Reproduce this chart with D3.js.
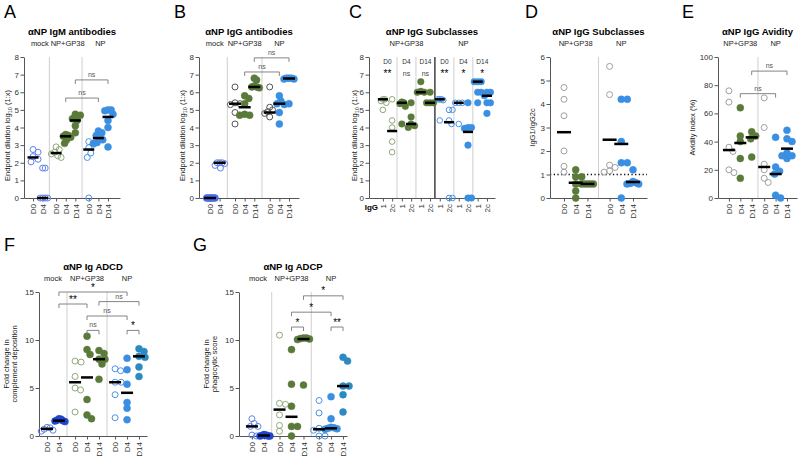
<!DOCTYPE html>
<html><head><meta charset="utf-8">
<script src="https://cdn.jsdelivr.net/npm/d3@7"></script>
<style>body{margin:0;background:#fff}svg{display:block}</style>
</head><body><svg id="c" width="799" height="457"></svg>
<script>
// ================= DATA =================
// Panel A – αNP IgM antibodies
const A_labels = ["D0","D4","D0","D4","D14","D0","D4","D14"];
const A_groupOf = [0,0,1,1,1,2,2,2];
const A_subs = [["mock",0,1],["NP+GP38",2,4],["NP",5,7]];
const A_values = [
  [2.75,2.6,2.35,2.2,2.05],
  [1.7,1.7,0,0,0,0],
  [2.9,2.75,2.6,2.5,2.4,2.3],
  [3.6,3.55,3.5,3.45,3.3,3.1],
  [4.75,4.7,4.5,4.4,4.1,3.7],
  [3.2,3.05,2.85,2.55,2.3,0],
  [3.8,3.7,3.55,3.4,3.3,3.15,3.1],
  [5.0,5.0,4.95,4.75,4.4,4.0,2.9]
];
const A_medians = [2.3,0,2.55,3.5,4.4,2.75,3.4,4.6];
const A_sig = [[3,6,5.67,"ns"],[4,7,6.7,"ns"]];

// Panel B – αNP IgG antibodies
const B_labels = ["D0","D4","D0","D4","D14","D0","D4","D14"];
const B_groupOf = [0,0,1,1,1,2,2,2];
const B_subs = [["mock",0,1],["NP+GP38",2,4],["NP",5,7]];
const B_values = [
  [0,0,0,0,0,0],
  [2.0,2.0,2.0,1.95,1.85,1.7],
  [6.3,5.4,5.35,5.3,4.85,4.2],
  [5.8,5.65,5.35,4.75,4.7,4.7],
  [6.8,6.7,6.35,6.3,6.3,6.25],
  [6.3,5.15,5.0,4.9,4.8,4.6],
  [5.8,5.5,5.35,5.3,4.85,4.2],
  [6.8,6.8,6.8,6.75,6.75,5.35]
];
const B_medians = [0,2.0,5.35,5.15,6.3,4.85,5.35,6.78];
const B_sig = [[3,6,7.15,"ns"],[4,7,7.95,"ns"]];

// Panel C – αNP IgG Subclasses (IgG1 / IgG2c)
const C_labels = ["1","2c","1","2c","1","2c","1","2c","1","2c","1","2c"];
const C_groupOf = [0,0,1,1,2,2,3,3,4,4,5,5];
const C_subs = [["NP+GP38",0,5],["NP",6,11]];
const C_days = ["D0","D4","D14","D0","D4","D14"];
const C_groupSig = ["**","ns","ns","**","*","*"];
const C_values = [
  [5.6,5.6,5.5,5.4,5.0],
  [5.6,4.4,4.0,3.2,2.6],
  [5.45,5.4,5.35,5.2,4.2],
  [5.4,4.6,4.2,4.1,4.0],
  [6.6,6.05,6.0,6.0],
  [6.0,5.4,5.4,5.4],
  [5.6,5.6,5.6,5.55,4.4],
  [5.0,5.0,4.4,4.2,0,0],
  [5.4,5.4,5.4,4.2],
  [5.4,4.0,4.0,3.95,3.0,0,0],
  [6.6,6.6,6.6,6.0,6.0,5.4],
  [6.0,6.0,5.8,5.4,5.4,4.8]
];
const C_medians = [5.6,3.8,5.4,4.2,6.0,5.4,5.6,4.3,5.4,3.75,6.6,5.8];

// Panel D – IgG1/IgG2c ratio
const D_labels = ["D0","D4","D14","D0","D4","D14"];
const D_groupOf = [0,0,0,1,1,1];
const D_subs = [["NP+GP38",0,2],["NP",3,5]];
const D_values = [
  [4.7,4.2,3.5,2.0,1.35,1.1],
  [1.2,0.9,0.9,0.6,0.3,0.0],
  [0.6,0.6,0.6,0.6,0.6],
  [5.6,4.4,1.4,1.3,1.15,1.1],
  [4.2,4.2,2.4,1.5,1.5,0.0],
  [1.2,0.7,0.65,0.62,0.6,0.6]
];
const D_medians = [2.8,0.65,0.6,2.48,2.3,0.68];
const D_refLine = 1;

// Panel E – αNP IgG Avidity
const E_labels = ["D0","D4","D14","D0","D4","D14"];
const E_groupOf = [0,0,0,1,1,1];
const E_subs = [["NP+GP38",0,2],["NP",3,5]];
const E_values = [
  [76,68,36,33,20,18],
  [64,44,40,28,14],
  [47,44,42,29],
  [71,50,24,20,14,11],
  [43,22,19,17,2,0],
  [48,42,40,32,30,28,30]
];
const E_medians = [34,39,43,22,17,35];
const E_sig = [[1,4,74,"ns"],[2,5,90,"ns"]];

// Panel F – αNP Ig ADCD
const F_labels = ["D0","D4","D0","D4","D14","D0","D4","D14"];
const F_groupOf = [0,0,1,1,1,2,2,2];
const F_subs = [["mock",0,1],["NP+GP38",2,4],["NP",5,7]];
const F_values = [
  [0.9,0.85,0.7,0.6,0.5],
  [1.8,1.75,1.65,1.6,1.55,1.5],
  [7.8,7.7,6.2,5.0,4.8,2.5],
  [10.4,9.0,8.5,3.8,2.2,1.8],
  [8.9,8.6,8.0,8.0,7.5,5.9],
  [7.0,6.8,5.6,5.6,4.3,1.9],
  [8.1,6.9,5.4,3.5,2.9,1.7],
  [9.1,8.8,8.3,8.2,7.2,6.2]
];
const F_medians = [0.75,1.6,5.6,6.1,8.0,5.6,4.5,8.3];
const F_sig = [[1,6,15.0,"*"],[1,3,13.75,"**"],[4,7,14.0,"ns"],[3,6,12.5,"ns"],[3,4,11.0,"ns"],[6,7,11.0,"*"]];

// Panel G – αNP Ig ADCP
const G_labels = ["D0","D4","D0","D4","D14","D0","D4","D14"];
const G_groupOf = [0,0,1,1,1,2,2,2];
const G_subs = [["mock",0,1],["NP+GP38",2,4],["NP",5,7]];
const G_values = [
  [1.8,1.3,1.0,1.0,0.1,0.0],
  [0.15,0.1,0.05,0.0,0.0,0.0],
  [10.5,3.4,3.3,2.2,1.1,0.5],
  [9.0,5.4,3.1,1.0,1.0,0.0],
  [10.2,10.2,10.15,10.1,10.05,5.3],
  [3.7,2.4,0.8,0.7,0.6,0.0,0.0],
  [4.1,1.8,0.9,0.85,0.8,0.75,0.7],
  [8.2,7.8,5.2,5.2,4.3,2.5]
];
const G_medians = [1.0,0.05,2.75,2.0,10.1,0.7,0.8,5.2];
const G_sig = [[4,7,14.6,"*"],[3,6,12.9,"*"],[3,4,11.35,"*"],[6,7,11.35,"**"]];

// ================= STYLES =================
const FONT = '"Liberation Sans", Arial, Helvetica, sans-serif';
const ST = {
  mockO:{fill:"none",stroke:"#5f82ea"},
  mockB:{fill:"#4a6cea",stroke:"#4a6cea"},
  mockF:{fill:"#1f46d2",stroke:"#1f46d2"},
  gpO:{fill:"none",stroke:"#8fa87a"},
  gpF:{fill:"#5a7a3a",stroke:"#5a7a3a"},
  npO:{fill:"none",stroke:"#4b93e6"},
  npF:{fill:"#3a8fe2",stroke:"#3a8fe2"},
  npT:{fill:"#2b8ac2",stroke:"#2b8ac2"},
  grO:{fill:"none",stroke:"#a0a0a0"},
  dkO:{fill:"none",stroke:"#555"}
};

const svg = d3.select("#c");

function swarm(vals, y, r, maxSpread){
  const placed=[], md=r*1.6;
  vals.forEach(v=>{
    const py=y(v); let dx=0;
    for(let k=0;k<80;k++){
      const c = k===0?0:((k%2?1:-1)*Math.ceil(k/2)*0.5);
      if(placed.every(q=>(q.dx-c)**2+(q.y-py)**2>=md*md)){dx=c;break;}
    }
    placed.push({dx,y:py});
  });
  const m = d3.max(placed,d=>Math.abs(d.dx))||0;
  if(m>maxSpread) placed.forEach(d=>d.dx*=maxSpread/m);
  return placed;
}

function panel(p){
  const g = svg.append("g");
  const n = p.values.length;
  const slots = p.groupOf.map((gi,i)=>i+p.gap*gi);
  const x = d3.scaleLinear().domain([-p.padL, slots[n-1]+p.padR]).range([p.x0,p.x1]);
  const y = d3.scaleLinear().domain(p.yDomain).range([p.yBot,p.yTop]);
  const R = p.r||3.5;

  svg.append("text").attr("x",p.letter[1]).attr("y",p.letter[2]).text(p.letter[0])
    .attr("font-family",FONT).attr("font-size",18).attr("fill","#000");
  g.append("text").attr("x",(p.x0+p.x1)/2).attr("y",p.titleY).attr("text-anchor","middle")
    .attr("font-family",FONT).attr("font-size",9.5).attr("font-weight","bold").text(p.title);
  p.subs.forEach(([t,a,b])=>{
    g.append("text").attr("x",(x(slots[a])+x(slots[b]))/2 + (p.subShift||0)).attr("y",p.subY).attr("text-anchor","middle")
      .attr("font-family",FONT).attr("font-size",7.5).attr("fill","#222").text(t);
  });

  for(let i=0;i<n-1;i++) if(p.groupOf[i]!==p.groupOf[i+1]){
    const sx = x((slots[i]+slots[i+1])/2);
    const dark = p.darkSep && p.darkSep.includes(i);
    g.append("line").attr("x1",sx).attr("x2",sx).attr("y1",p.yTop).attr("y2",p.yBot)
      .attr("stroke",dark?"#111":"#cfcfcf").attr("stroke-width",dark?1.2:1);
  }

  if(p.refLine!=null){
    g.append("line").attr("x1",p.x0).attr("x2",p.x1).attr("y1",y(p.refLine)).attr("y2",y(p.refLine))
      .attr("stroke","#111").attr("stroke-width",1.3).attr("stroke-dasharray","1.3,2.4");
  }

  const ya = g.append("g").attr("transform",`translate(${p.x0},0)`)
    .call(d3.axisLeft(y).tickValues(p.yTicks).tickFormat(d3.format("d")).tickSize(3.5).tickSizeOuter(0).tickPadding(1.5));
  const xa = g.append("g").attr("transform",`translate(0,${p.yBot})`)
    .call(d3.axisBottom(x).tickValues(slots).tickSize(3.5).tickSizeOuter(0).tickFormat((d,i)=>p.labels[i]));
  xa.selectAll("text").attr("transform","rotate(-90)").attr("text-anchor","end")
    .attr("x",-6).attr("y",0).attr("dy","0.35em");
  [ya,xa].forEach(a=>{
    a.attr("font-family",FONT).attr("font-size",8);
    a.select(".domain").attr("stroke","#555");
    a.selectAll(".tick line").attr("stroke","#555");
    a.selectAll("text").attr("fill","#333");
  });

  const cy = (p.yTop+p.yBot)/2 + (p.ylabShift||0);
  p.ylab.forEach((lab,k)=>{
    const t = g.append("text").attr("transform",`translate(${p.ylabX[k]},${cy}) rotate(-90)`)
      .attr("text-anchor","middle").attr("dy","0.35em").attr("font-family",FONT)
      .attr("font-size",7.5).attr("fill","#222");
    if(Array.isArray(lab)){
      t.append("tspan").text(lab[0]);
      t.append("tspan").attr("font-size",5.5).attr("dy",2).text(lab[1]);
      t.append("tspan").attr("dy",-2).text(lab[2]);
    } else t.text(lab);
  });

  p.values.forEach((vals,i)=>{
    const cx = x(slots[i]);
    const st = ST[p.styles[i]];
    g.append("g").selectAll("circle").data(swarm(vals,y,R,p.spread||6)).join("circle")
      .attr("cx",d=>cx+d.dx).attr("cy",d=>d.y).attr("r",st.fill==="none"?R-0.5:R)
      .attr("fill",st.fill).attr("stroke",st.stroke).attr("stroke-width",st.fill==="none"?1:0.5);
  });
  p.medians.forEach((m,i)=>{
    const cx = x(slots[i]);
    g.append("line").attr("x1",cx-p.mhw).attr("x2",cx+p.mhw).attr("y1",y(m)).attr("y2",y(m))
      .attr("stroke","#000").attr("stroke-width",2.5);
  });

  (p.sig||[]).forEach(([a,b,v,lab])=>{
    const xa_=x(slots[a]), xb=x(slots[b]), yy=y(v);
    g.append("path").attr("d",`M${xa_},${yy+4}V${yy}H${xb}V${yy+4}`)
      .attr("fill","none").attr("stroke","#777").attr("stroke-width",0.9);
    g.append("text").attr("x",(xa_+xb)/2).attr("y",lab==="ns"?yy-3:yy-1.5).attr("text-anchor","middle")
      .attr("font-family",FONT).attr("font-size",lab==="ns"?7:10)
      .attr("fill",lab==="ns"?"#555":"#000").text(lab);
  });

  return {g,x,y,slots};
}

// ================= PANELS =================
panel({letter:["A",4,18], title:"αNP IgM antibodies", titleY:35, subY:46,
  x0:24,x1:120,yTop:57,yBot:198,yDomain:[0,8],yTicks:d3.range(0,9),
  gap:0.4,padL:0.94,padR:1.25, labels:A_labels,groupOf:A_groupOf,subs:A_subs,subShift:2,
  values:A_values,medians:A_medians,sig:A_sig,mhw:5.5,spread:5,
  styles:["mockO","mockO","gpO","gpF","gpF","npO","npF","npF"],
  ylab:[["Endpoint dilution log","10"," (1:x)"]], ylabX:[7], ylabShift:8});

panel({letter:["B",174,18], title:"αNP IgG antibodies", titleY:35, subY:46,
  x0:199,x1:299,yTop:57,yBot:198,yDomain:[0,8],yTicks:d3.range(0,9),
  gap:0.6,padL:1.14,padR:1.04, labels:B_labels,groupOf:B_groupOf,subs:B_subs,
  values:B_values,medians:B_medians,sig:B_sig,mhw:6,spread:5,
  styles:["mockB","mockO","dkO","gpF","gpF","dkO","npF","npF"],
  ylab:[["Endpoint dilution log","10"," (1:x)"]], ylabX:[182], ylabShift:8});

const pc = panel({letter:["C",349,18], title:"αNP IgG Subclasses", titleY:35, subY:46,
  x0:369,x1:495,yTop:57,yBot:198,yDomain:[0,8],yTicks:d3.range(0,9),
  gap:0.05,padL:1.5,padR:0.87, labels:C_labels,groupOf:C_groupOf,subs:C_subs,darkSep:[5],
  values:C_values,medians:C_medians,mhw:5,r:3.3,spread:3.5,
  styles:["gpO","gpO","gpF","gpF","gpF","gpF","npO","npO","npO","npF","npF","npF"],
  ylab:[["Endpoint dilution log","10"," (1:x)"]], ylabX:[354], ylabShift:8});
C_days.forEach((d,k)=>{
  const cx=(pc.x(pc.slots[2*k])+pc.x(pc.slots[2*k+1]))/2;
  pc.g.append("text").attr("x",cx).attr("y",64).attr("text-anchor","middle")
    .attr("font-family",FONT).attr("font-size",6.5).attr("fill","#333").text(d);
  const s=C_groupSig[k];
  pc.g.append("text").attr("x",cx).attr("y",s==="ns"?76:77).attr("text-anchor","middle")
    .attr("font-family",FONT).attr("font-size",s==="ns"?7:10).attr("fill",s==="ns"?"#444":"#000").text(s);
});
pc.g.append("text").attr("x",378).attr("y",210).attr("text-anchor","end")
  .attr("font-family",FONT).attr("font-size",8).attr("font-weight","bold").text("IgG");

panel({letter:["D",525,18], title:"αNP IgG Subclasses", titleY:35, subY:46,
  x0:550,x1:647,yTop:57,yBot:198,yDomain:[0,6],yTicks:d3.range(0,7),
  gap:0.9,padL:1.2,padR:1.2, labels:D_labels,groupOf:D_groupOf,subs:D_subs,
  values:D_values,medians:D_medians,refLine:D_refLine,mhw:7,spread:6,
  styles:["grO","gpF","gpF","grO","npF","npF"],
  ylab:["IgG1/IgG2c"], ylabX:[532]});

panel({letter:["E",682,18], title:"αNP IgG Avidity", titleY:35, subY:46,
  x0:718,x1:797,yTop:57,yBot:198,yDomain:[0,100],yTicks:[0,20,40,60,80,100],
  gap:0.1,padL:0.96,padR:0.88, labels:E_labels,groupOf:E_groupOf,subs:E_subs,
  values:E_values,medians:E_medians,sig:E_sig,mhw:6,spread:5,
  styles:["grO","gpF","gpF","grO","npF","npF"],
  ylab:["Avidity Index (%)"], ylabX:[692]});

panel({letter:["F",4,251], title:"αNP Ig ADCD", titleY:270, subY:281,
  x0:39,x1:147,yTop:292,yBot:436,yDomain:[0,15],yTicks:[0,5,10,15],
  gap:0.35,padL:0.67,padR:0.67, labels:F_labels,groupOf:F_groupOf,subs:F_subs,
  values:F_values,medians:F_medians,sig:F_sig,mhw:6,spread:6,
  styles:["mockO","mockF","gpO","gpF","gpF","npO","npF","npT"],
  ylab:["Fold change in","complement deposition"], ylabX:[6,14]});

panel({letter:["G",193,251], title:"αNP Ig ADCP", titleY:270, subY:281,
  x0:239,x1:347,yTop:292,yBot:436,yDomain:[0,15],yTicks:[0,5,10,15],
  gap:0.3,padL:1.08,padR:0.33, labels:G_labels,groupOf:G_groupOf,subs:G_subs,
  values:G_values,medians:G_medians,sig:G_sig,mhw:6,spread:6,
  styles:["mockO","mockF","gpO","gpF","gpF","npO","npF","npT"],
  ylab:["Fold change in","phagocytic score"], ylabX:[206,214]});
</script></body></html>
